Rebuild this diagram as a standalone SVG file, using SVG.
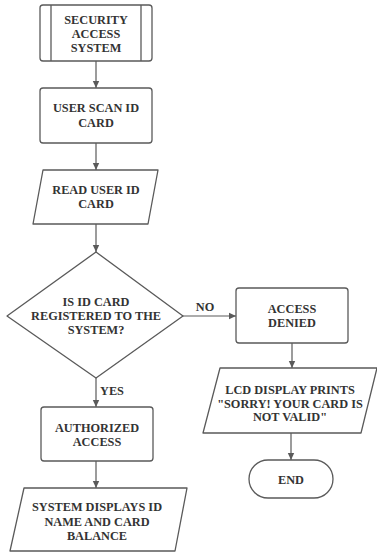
<svg xmlns="http://www.w3.org/2000/svg" width="377" height="553" viewBox="0 0 377 553">
<defs>
<style>
.s{fill:#fff;stroke:#5a5a5a;stroke-width:1.3}
.t{font-family:"Liberation Serif","DejaVu Serif",serif;font-weight:bold;font-size:12.3px;fill:#333;text-anchor:middle}
.c{fill:none;stroke:#5a5a5a;stroke-width:1.2}
</style>
<marker id="ah" markerWidth="8" markerHeight="8" refX="7" refY="4" orient="auto" markerUnits="userSpaceOnUse">
<path d="M0,0.8 L7,4 L0,7.2 Z" fill="#5a5a5a"/>
</marker>
</defs>
<rect width="377" height="553" fill="#fff"/>
<g id="connectors">
<line class="c" x1="96" y1="61" x2="96" y2="88" marker-end="url(#ah)"/>
<line class="c" x1="96" y1="143" x2="96" y2="170" marker-end="url(#ah)"/>
<line class="c" x1="96" y1="224" x2="96" y2="252" marker-end="url(#ah)"/>
<line class="c" x1="183" y1="316" x2="236" y2="316" marker-end="url(#ah)"/>
<line class="c" x1="96" y1="378" x2="96" y2="407" marker-end="url(#ah)"/>
<line class="c" x1="96" y1="461" x2="96" y2="488" marker-end="url(#ah)"/>
<line class="c" x1="292" y1="343" x2="292" y2="368" marker-end="url(#ah)"/>
<line class="c" x1="291" y1="433" x2="291" y2="460" marker-end="url(#ah)"/>
<text class="t" x="205" y="311">NO</text>
<text class="t" x="112" y="395">YES</text>
</g>
<g id="start">
<rect class="s" x="40" y="5" width="112" height="56" rx="3"/>
<line class="s" x1="51" y1="5" x2="51" y2="61"/>
<line class="s" x1="141" y1="5" x2="141" y2="61"/>
<text class="t" x="96" y="23.5">SECURITY</text>
<text class="t" x="96" y="37.5">ACCESS</text>
<text class="t" x="96" y="51.5">SYSTEM</text>
</g>
<g id="scan">
<rect class="s" x="40" y="88" width="112" height="55" rx="3"/>
<text class="t" x="96" y="112">USER SCAN ID</text>
<text class="t" x="96" y="127">CARD</text>
</g>
<g id="read">
<path class="s" d="M43,170 L158,170 L148,224 L33,224 Z" stroke-linejoin="round"/>
<text class="t" x="96" y="194">READ USER ID</text>
<text class="t" x="96" y="208">CARD</text>
</g>
<g id="decision">
<path class="s" d="M96,252 L183,316 L96,378 L7,316 Z" stroke-linejoin="round"/>
<text class="t" x="96" y="306">IS ID CARD</text>
<text class="t" x="96" y="320">REGISTERED TO THE</text>
<text class="t" x="96" y="333.5">SYSTEM?</text>
</g>
<g id="denied">
<rect class="s" x="236" y="288" width="112" height="55" rx="3"/>
<text class="t" x="292" y="313">ACCESS</text>
<text class="t" x="292" y="327">DENIED</text>
</g>
<g id="lcd">
<path class="s" d="M220,368 L377,368 L361,433 L203,433 Z" stroke-linejoin="round"/>
<text class="t" x="290" y="394">LCD DISPLAY PRINTS</text>
<text class="t" x="290" y="407.5">"SORRY! YOUR CARD IS</text>
<text class="t" x="290" y="421">NOT VALID"</text>
</g>
<g id="end">
<rect class="s" x="249" y="460" width="84" height="38" rx="19"/>
<text class="t" x="291" y="483.5">END</text>
</g>
<g id="authorized">
<rect class="s" x="41" y="407" width="112" height="54" rx="3"/>
<text class="t" x="97" y="432">AUTHORIZED</text>
<text class="t" x="97" y="446">ACCESS</text>
</g>
<g id="display">
<path class="s" d="M24,488 L187,488 L175,551 L10,551 Z" stroke-linejoin="round"/>
<text class="t" x="97" y="511">SYSTEM DISPLAYS ID</text>
<text class="t" x="97" y="525.5">NAME AND CARD</text>
<text class="t" x="97" y="540">BALANCE</text>
</g>
</svg>
